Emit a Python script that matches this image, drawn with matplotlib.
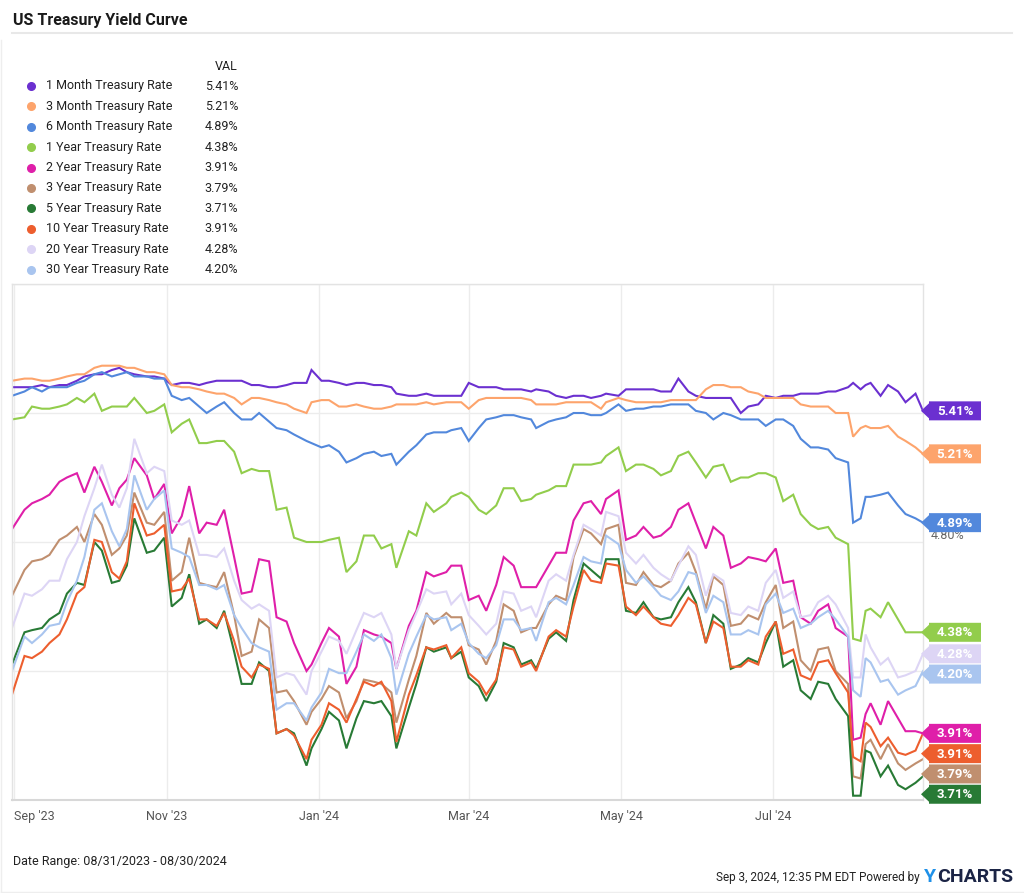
import matplotlib
matplotlib.use('Agg')
import matplotlib.pyplot as plt
import matplotlib.dates as mdates
from matplotlib.patches import Polygon
import pandas as pd

plt.rcParams['font.family'] = ['Roboto', 'DejaVu Sans']

# data (about two points a week) #
######################################################

dates = pd.to_datetime([
    "2023-08-31", "2023-09-05", "2023-09-08", "2023-09-12", "2023-09-15",
    "2023-09-19", "2023-09-22", "2023-09-26", "2023-09-29",
    "2023-10-03", "2023-10-06", "2023-10-10", "2023-10-13", "2023-10-16",
    "2023-10-19", "2023-10-24", "2023-10-27", "2023-10-31",
    "2023-11-03", "2023-11-07", "2023-11-10", "2023-11-14", "2023-11-17",
    "2023-11-21", "2023-11-24", "2023-11-28",
    "2023-12-01", "2023-12-05", "2023-12-08", "2023-12-12", "2023-12-15",
    "2023-12-19", "2023-12-22", "2023-12-27", "2023-12-29",
    "2024-01-02", "2024-01-05", "2024-01-09", "2024-01-12", "2024-01-16",
    "2024-01-19", "2024-01-23", "2024-01-26", "2024-01-30",
    "2024-02-01", "2024-02-06", "2024-02-09", "2024-02-13", "2024-02-16",
    "2024-02-21", "2024-02-23", "2024-02-27",
    "2024-03-01", "2024-03-05", "2024-03-08", "2024-03-12", "2024-03-15",
    "2024-03-19", "2024-03-22", "2024-03-26", "2024-03-28",
    "2024-04-02", "2024-04-05", "2024-04-09", "2024-04-12", "2024-04-16",
    "2024-04-19", "2024-04-23", "2024-04-25", "2024-04-30",
    "2024-05-03", "2024-05-07", "2024-05-10", "2024-05-14", "2024-05-17",
    "2024-05-21", "2024-05-24", "2024-05-28", "2024-05-31",
    "2024-06-04", "2024-06-07", "2024-06-11", "2024-06-14", "2024-06-18",
    "2024-06-21", "2024-06-25", "2024-06-28",
    "2024-07-02", "2024-07-05", "2024-07-09", "2024-07-12", "2024-07-16",
    "2024-07-19", "2024-07-23", "2024-07-26", "2024-07-31",
    "2024-08-02", "2024-08-05", "2024-08-07", "2024-08-09", "2024-08-13",
    "2024-08-16", "2024-08-20", "2024-08-23", "2024-08-27", "2024-08-30",
])

# one row per month: Sep, Oct, Nov, Dec, Jan, Feb, Mar, Apr, May, Jun, Jul, Aug
rate_1m = [5.52, 5.52, 5.52, 5.53, 5.52, 5.53, 5.53, 5.55, 5.57,
           5.58, 5.58, 5.60, 5.61, 5.59, 5.58, 5.57, 5.57, 5.56,
           5.53, 5.54, 5.54, 5.53, 5.54, 5.55, 5.55, 5.55,
           5.55, 5.53, 5.53, 5.52, 5.52, 5.53, 5.54, 5.54, 5.60,
           5.55, 5.55, 5.54, 5.53, 5.54, 5.54, 5.53, 5.53, 5.52,
           5.49, 5.48, 5.48, 5.49, 5.48, 5.48, 5.48, 5.48,
           5.54, 5.52, 5.52, 5.52, 5.51, 5.51, 5.51, 5.50, 5.51,
           5.50, 5.48, 5.47, 5.48, 5.48, 5.47, 5.48, 5.49, 5.48,
           5.51, 5.51, 5.51, 5.51, 5.50, 5.50, 5.56, 5.50, 5.48,
           5.47, 5.47, 5.47, 5.47, 5.40, 5.43, 5.44, 5.48,
           5.47, 5.48, 5.48, 5.49, 5.49, 5.49, 5.50, 5.50, 5.52,
           5.54, 5.51, 5.53, 5.54, 5.48, 5.53, 5.50, 5.45, 5.49, 5.41]

rate_3m = [5.55, 5.56, 5.56, 5.55, 5.55, 5.56, 5.57, 5.58, 5.58,
           5.61, 5.62, 5.62, 5.62, 5.61, 5.61, 5.59, 5.59, 5.58,
           5.53, 5.52, 5.52, 5.51, 5.50, 5.49, 5.49, 5.47,
           5.44, 5.47, 5.47, 5.46, 5.45, 5.44, 5.42, 5.40, 5.45,
           5.46, 5.46, 5.43, 5.43, 5.44, 5.43, 5.42, 5.42, 5.43,
           5.44, 5.44, 5.44, 5.45, 5.44, 5.45, 5.45, 5.45,
           5.42, 5.46, 5.47, 5.47, 5.47, 5.47, 5.47, 5.46, 5.44,
           5.44, 5.44, 5.45, 5.45, 5.45, 5.45, 5.42, 5.45, 5.47,
           5.46, 5.45, 5.45, 5.45, 5.45, 5.46, 5.46, 5.46, 5.46,
           5.51, 5.53, 5.53, 5.52, 5.52, 5.50, 5.49, 5.47,
           5.47, 5.47, 5.47, 5.44, 5.43, 5.43, 5.43, 5.40, 5.40,
           5.29, 5.33, 5.34, 5.33, 5.33, 5.34, 5.29, 5.27, 5.24, 5.21]

rate_6m = [5.48, 5.50, 5.52, 5.50, 5.52, 5.52, 5.52, 5.54, 5.55,
           5.58, 5.59, 5.57, 5.58, 5.59, 5.57, 5.57, 5.56, 5.56,
           5.48, 5.46, 5.47, 5.43, 5.40, 5.43, 5.45, 5.40,
           5.37, 5.37, 5.40, 5.36, 5.33, 5.32, 5.30, 5.27, 5.26,
           5.24, 5.25, 5.22, 5.17, 5.19, 5.21, 5.22, 5.20, 5.21,
           5.16, 5.22, 5.25, 5.30, 5.31, 5.31, 5.32, 5.33,
           5.27, 5.33, 5.37, 5.38, 5.39, 5.39, 5.38, 5.37, 5.33,
           5.36, 5.37, 5.38, 5.40, 5.40, 5.39, 5.39, 5.40, 5.44,
           5.41, 5.42, 5.42, 5.43, 5.43, 5.44, 5.44, 5.44, 5.41,
           5.40, 5.37, 5.40, 5.39, 5.37, 5.37, 5.37, 5.34,
           5.37, 5.37, 5.34, 5.28, 5.24, 5.24, 5.23, 5.19, 5.17,
           4.89, 4.91, 5.01, 5.01, 5.02, 5.03, 4.97, 4.93, 4.91, 4.89]

rate_1y = [5.37, 5.38, 5.43, 5.42, 5.42, 5.43, 5.44, 5.47, 5.45,
           5.49, 5.41, 5.43, 5.43, 5.43, 5.47, 5.40, 5.41, 5.44,
           5.31, 5.35, 5.37, 5.26, 5.26, 5.27, 5.27, 5.22,
           5.12, 5.14, 5.13, 5.13, 4.95, 4.96, 4.82, 4.80, 4.80,
           4.80, 4.81, 4.82, 4.66, 4.71, 4.83, 4.83, 4.77, 4.79,
           4.68, 4.85, 4.83, 4.98, 4.94, 4.98, 5.01, 5.03,
           5.01, 4.95, 4.93, 4.97, 5.05, 5.05, 4.99, 5.00, 5.02,
           5.04, 5.06, 5.06, 5.16, 5.16, 5.16, 5.17, 5.20, 5.24,
           5.13, 5.16, 5.16, 5.14, 5.11, 5.13, 5.20, 5.22, 5.17,
           5.10, 5.15, 5.16, 5.08, 5.10, 5.10, 5.12, 5.12,
           5.10, 4.99, 5.02, 4.93, 4.88, 4.86, 4.87, 4.82, 4.79,
           4.35, 4.34, 4.48, 4.49, 4.45, 4.52, 4.44, 4.38, 4.38, 4.38]

rate_2y = [4.86, 4.95, 4.98, 5.00, 5.02, 5.08, 5.10, 5.12, 5.03,
           5.15, 5.08, 4.97, 5.05, 5.09, 5.19, 5.11, 5.00, 5.07,
           4.84, 4.92, 5.06, 4.84, 4.89, 4.88, 4.95, 4.73,
           4.56, 4.57, 4.72, 4.71, 4.45, 4.43, 4.33, 4.20, 4.23,
           4.33, 4.40, 4.36, 4.14, 4.22, 4.39, 4.37, 4.36, 4.33,
           4.21, 4.41, 4.48, 4.66, 4.64, 4.66, 4.69, 4.69,
           4.53, 4.55, 4.48, 4.60, 4.73, 4.69, 4.59, 4.59, 4.59,
           4.69, 4.75, 4.75, 4.90, 4.98, 4.99, 4.93, 5.00, 5.04,
           4.81, 4.83, 4.87, 4.82, 4.83, 4.87, 4.95, 4.98, 4.89,
           4.77, 4.87, 4.83, 4.68, 4.70, 4.73, 4.72, 4.71,
           4.77, 4.61, 4.62, 4.45, 4.42, 4.48, 4.51, 4.40, 4.36,
           3.88, 3.89, 4.00, 4.05, 3.95, 4.06, 3.98, 3.92, 3.92, 3.91]

rate_3y = [4.55, 4.67, 4.71, 4.72, 4.74, 4.81, 4.83, 4.87, 4.80,
           4.93, 4.88, 4.74, 4.77, 4.83, 5.03, 4.89, 4.88, 4.94,
           4.62, 4.66, 4.82, 4.61, 4.60, 4.59, 4.66, 4.46,
           4.27, 4.29, 4.44, 4.40, 4.10, 4.11, 4.06, 3.95, 4.01,
           4.07, 4.13, 4.10, 3.98, 4.06, 4.16, 4.15, 4.14, 4.10,
           3.96, 4.16, 4.27, 4.47, 4.42, 4.47, 4.45, 4.45,
           4.32, 4.30, 4.23, 4.34, 4.51, 4.48, 4.38, 4.40, 4.40,
           4.51, 4.55, 4.53, 4.73, 4.86, 4.84, 4.79, 4.86, 4.88,
           4.61, 4.60, 4.66, 4.60, 4.59, 4.62, 4.70, 4.75, 4.66,
           4.49, 4.64, 4.60, 4.41, 4.42, 4.46, 4.44, 4.52,
           4.60, 4.40, 4.43, 4.25, 4.20, 4.30, 4.31, 4.20, 4.14,
           3.71, 3.70, 3.86, 3.88, 3.79, 3.86, 3.77, 3.74, 3.77, 3.79]

rate_5y = [4.23, 4.38, 4.39, 4.40, 4.44, 4.47, 4.56, 4.61, 4.60,
           4.80, 4.76, 4.61, 4.62, 4.69, 4.91, 4.75, 4.76, 4.82,
           4.50, 4.54, 4.65, 4.42, 4.44, 4.40, 4.48, 4.29,
           4.14, 4.14, 4.24, 4.20, 3.91, 3.93, 3.91, 3.76, 3.84,
           3.93, 4.01, 3.97, 3.84, 3.98, 4.06, 4.05, 4.06, 3.99,
           3.84, 4.03, 4.14, 4.31, 4.29, 4.31, 4.26, 4.29,
           4.17, 4.13, 4.06, 4.15, 4.33, 4.31, 4.23, 4.25, 4.21,
           4.35, 4.38, 4.34, 4.53, 4.70, 4.67, 4.63, 4.72, 4.72,
           4.48, 4.47, 4.52, 4.45, 4.44, 4.45, 4.52, 4.59, 4.52,
           4.33, 4.46, 4.42, 4.21, 4.23, 4.26, 4.24, 4.33,
           4.43, 4.22, 4.25, 4.11, 4.07, 4.15, 4.14, 4.07, 3.99,
           3.62, 3.62, 3.83, 3.82, 3.71, 3.76, 3.67, 3.65, 3.68, 3.71]

rate_10y = [4.09, 4.27, 4.26, 4.29, 4.33, 4.37, 4.44, 4.56, 4.59,
            4.81, 4.80, 4.66, 4.63, 4.71, 4.98, 4.83, 4.84, 4.88,
            4.57, 4.58, 4.63, 4.44, 4.44, 4.41, 4.47, 4.34,
            4.22, 4.17, 4.23, 4.21, 3.91, 3.93, 3.90, 3.79, 3.88,
            3.95, 4.05, 4.02, 3.96, 4.07, 4.15, 4.13, 4.15, 4.06,
            3.87, 4.09, 4.18, 4.31, 4.30, 4.32, 4.26, 4.31,
            4.19, 4.15, 4.09, 4.16, 4.31, 4.30, 4.22, 4.24, 4.20,
            4.36, 4.39, 4.36, 4.50, 4.67, 4.62, 4.61, 4.70, 4.69,
            4.50, 4.46, 4.50, 4.45, 4.42, 4.41, 4.46, 4.54, 4.51,
            4.33, 4.43, 4.40, 4.22, 4.22, 4.25, 4.23, 4.36,
            4.43, 4.28, 4.30, 4.18, 4.16, 4.24, 4.25, 4.19, 4.10,
            3.80, 3.78, 3.96, 3.94, 3.85, 3.89, 3.82, 3.81, 3.83, 3.91]

rate_20y = [4.40, 4.56, 4.55, 4.58, 4.62, 4.62, 4.72, 4.80, 4.92,
            5.05, 5.16, 5.02, 4.96, 5.05, 5.28, 5.12, 5.15, 5.13,
            4.90, 4.88, 4.90, 4.74, 4.74, 4.73, 4.77, 4.62,
            4.53, 4.49, 4.51, 4.48, 4.17, 4.19, 4.18, 4.09, 4.20,
            4.29, 4.36, 4.34, 4.28, 4.39, 4.47, 4.45, 4.47, 4.37,
            4.21, 4.39, 4.47, 4.58, 4.56, 4.57, 4.51, 4.56,
            4.46, 4.41, 4.37, 4.42, 4.57, 4.56, 4.48, 4.50, 4.45,
            4.62, 4.65, 4.62, 4.74, 4.88, 4.86, 4.83, 4.94, 4.92,
            4.75, 4.70, 4.74, 4.68, 4.65, 4.62, 4.69, 4.78, 4.74,
            4.55, 4.65, 4.62, 4.47, 4.46, 4.50, 4.48, 4.61,
            4.67, 4.54, 4.57, 4.45, 4.46, 4.52, 4.55, 4.51, 4.40,
            4.17, 4.17, 4.37, 4.31, 4.23, 4.26, 4.17, 4.18, 4.20, 4.28]

rate_30y = [4.20, 4.36, 4.33, 4.37, 4.41, 4.42, 4.52, 4.62, 4.73,
            4.95, 4.98, 4.85, 4.78, 4.86, 5.11, 4.95, 5.00, 5.04,
            4.77, 4.75, 4.73, 4.60, 4.60, 4.58, 4.60, 4.46,
            4.40, 4.33, 4.31, 4.29, 4.02, 4.05, 4.05, 3.97, 4.03,
            4.10, 4.21, 4.19, 4.19, 4.29, 4.37, 4.34, 4.37, 4.26,
            4.09, 4.28, 4.36, 4.46, 4.44, 4.45, 4.39, 4.42,
            4.33, 4.28, 4.26, 4.32, 4.44, 4.44, 4.39, 4.40, 4.34,
            4.52, 4.54, 4.51, 4.60, 4.73, 4.71, 4.70, 4.83, 4.79,
            4.67, 4.61, 4.64, 4.59, 4.55, 4.53, 4.57, 4.66, 4.65,
            4.47, 4.55, 4.52, 4.37, 4.37, 4.39, 4.37, 4.51,
            4.56, 4.47, 4.49, 4.40, 4.42, 4.45, 4.48, 4.44, 4.36,
            4.11, 4.08, 4.26, 4.24, 4.15, 4.16, 4.09, 4.11, 4.13, 4.20]

names = ["1 Month Treasury Rate", "3 Month Treasury Rate", "6 Month Treasury Rate",
         "1 Year Treasury Rate", "2 Year Treasury Rate", "3 Year Treasury Rate",
         "5 Year Treasury Rate", "10 Year Treasury Rate", "20 Year Treasury Rate",
         "30 Year Treasury Rate"]
colors = ["#6b30d0", "#fda46c", "#5288dc", "#92cd4c", "#df1fa9",
          "#c08f6f", "#287a35", "#ed5e2e", "#ddd5f5", "#a9c5ef"]
all_rates = [rate_1m, rate_3m, rate_6m, rate_1y, rate_2y,
             rate_3y, rate_5y, rate_10y, rate_20y, rate_30y]

tick_dates = pd.to_datetime(["2023-09-01", "2023-11-01", "2024-01-01",
                             "2024-03-01", "2024-05-01", "2024-07-01"])
tick_labels = ["Sep '23", "Nov '23", "Jan '24", "Mar '24", "May '24", "Jul '24"]

for n, vals in zip(names, all_rates):
    if len(vals) != len(dates):
        print("length mismatch:", n, len(vals), len(dates))

# figure #
##########

W, H = 1024, 893
fig = plt.figure(figsize=(W / 100, H / 100), dpi=100)
fig.patch.set_facecolor('white')

px_l, px_r, px_t, px_b = 12, 923, 284, 800
ax = fig.add_axes([px_l / W, 1 - px_b / H, (px_r - px_l) / W, (px_b - px_t) / H])

for vals, c in zip(all_rates, colors):
    ax.plot(dates, vals, color=c, lw=1.5, solid_joinstyle='miter')

ax.set_xlim(dates[0], dates[-1])
ax.set_ylim(3.6, 6.0)
ax.set_yticks([3.6, 4.2, 4.8, 5.4, 6.0])
ax.set_yticklabels([])
ax.set_xticks(tick_dates)
ax.set_xticklabels(tick_labels, fontsize=9, color='#555555')
ax.get_xticklabels()[0].set_ha('left')
ax.tick_params(length=0, pad=7)
ax.grid(True, color='#ececec', lw=1)
ax.set_axisbelow(True)
for s in ax.spines.values():
    s.set_color('#e3e3e3')
    s.set_linewidth(1)
ax.spines['bottom'].set_color('#d8d8d8')
ax.spines['bottom'].set_linewidth(1.5)

# only visible axis label on the right
ax.text(1.008, 4.8, '4.80%', transform=ax.get_yaxis_transform(), fontsize=9,
        color='#666666', va='bottom', ha='left')

# overlay in pixel coordinates #
################################

ov = fig.add_axes([0, 0, 1, 1], facecolor='none')
ov.set_xlim(0, W)
ov.set_ylim(H, 0)
ov.axis('off')

ov.text(13, 20, "US Treasury Yield Curve", fontsize=11.5, fontweight='bold',
        color='#1a1a1a', va='center', ha='left')
ov.plot([12, 1012], [33, 33], color='#e8e8e8', lw=1.5)

# legend table
ov.text(238, 66, "VAL", fontsize=9, color='#222222', ha='right', va='center')
for i, (name, c, vals) in enumerate(zip(names, colors, all_rates)):
    y = 86 + i * 20.4
    ov.plot(31, y, 'o', color=c, ms=5.5)
    ov.text(46, y, name, fontsize=9, color='#222222', va='center', ha='left')
    ov.text(238, y, "%.2f%%" % vals[-1], fontsize=9, color='#222222',
            va='center', ha='right')

# end-value flags, pushed apart so they do not overlap
fig.canvas.draw()
ends = []
for i, vals in enumerate(all_rates):
    y_disp = ax.transData.transform((mdates.date2num(dates[-1]), vals[-1]))[1]
    ends.append((H - y_disp, i))
ends.sort(key=lambda t: (t[0], t[1]))
placed = []
prev = -1e9
for y, i in ends:
    y = max(y, prev + 20.3)
    placed.append((y, i))
    prev = y

for y, i in placed:
    x0, x1, tip = 929, 981, 921
    poly = Polygon([(tip, y), (x0, y - 7.5), (x0, y - 9.5), (x1, y - 9.5),
                    (x1, y + 9.5), (x0, y + 9.5), (x0, y + 7.5)],
                   closed=True, facecolor=colors[i], edgecolor='none', zorder=5)
    ov.add_patch(poly)
    ov.text((x0 + x1) / 2, y + 0.5, "%.2f%%" % all_rates[i][-1], fontsize=9.5,
            fontweight='bold', color='white', ha='center', va='center', zorder=6)

# footer
ov.text(13, 862, "Date Range: 08/31/2023 - 08/30/2024", fontsize=9,
        color='#222222', ha='left', va='center')
ov.text(920, 877, "Sep 3, 2024, 12:35 PM EDT Powered by", fontsize=8.5,
        color='#222222', ha='right', va='center')
ov.text(924, 877, "Y", fontsize=14, fontweight='bold', color='#1e90e8',
        ha='left', va='center')
ov.text(937, 877, "CHARTS", fontsize=14, fontweight='bold', color='#1b2445',
        ha='left', va='center')

# faint frame around the card
ov.plot([1, 1], [40, 892], color='#eeeeee', lw=1)
ov.plot([1, 1023], [892, 892], color='#eeeeee', lw=1)

fig.savefig('out.png', dpi=100)
